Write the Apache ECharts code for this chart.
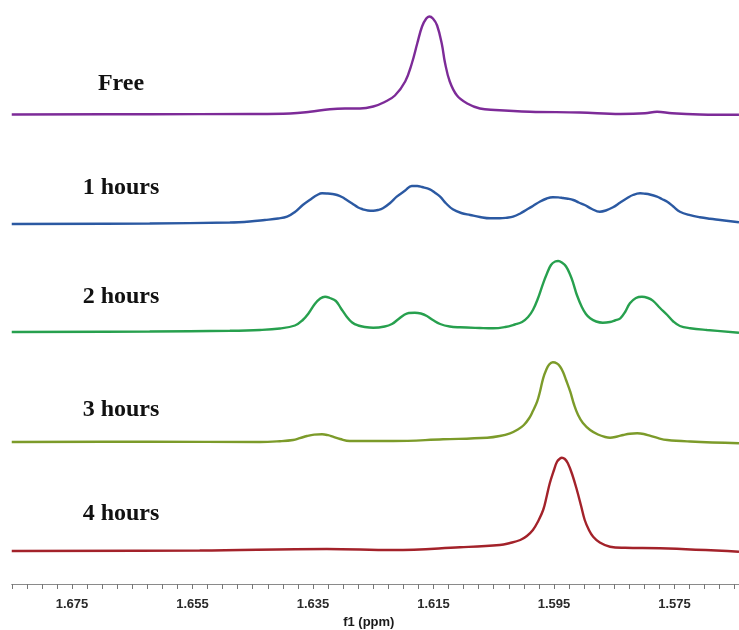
<!DOCTYPE html>
<html>
<head>
<meta charset="utf-8">
<script src="https://cdn.jsdelivr.net/npm/echarts@6/dist/echarts.min.js"></script>
<style>
  html, body { margin: 0; padding: 0; background: #fff; }
  #chart { width: 739px; height: 630px; }
</style>
</head>
<body>
<div id="chart"></div>
<script>
// Stacked 1H NMR traces over time (chemical shift in ppm, intensity in arbitrary units)
const spectrumNames = ['Free', '1 hours', '2 hours', '3 hours', '4 hours'];
const tickLabels = ['1.675', '1.655', '1.635', '1.615', '1.595', '1.575'];

const freePpm = [1.685, 1.6621, 1.6455, 1.6388, 1.6355, 1.6322, 1.6297, 1.6272, 1.6250, 1.6231,
  1.6214, 1.6197, 1.6186, 1.6177, 1.6169, 1.6162, 1.6157, 1.6151, 1.6144, 1.6136,
  1.6131, 1.6123, 1.6111, 1.6094, 1.6073, 1.6048, 1.5990, 1.5907, 1.5840, 1.5799,
  1.5779, 1.5754, 1.5708, 1.5643];
const freeInt = [0, 0.3, 0.5, 1, 2.7, 5.3, 6, 6, 8, 12.5,
  19, 33, 51, 71, 88, 96, 98, 96, 89, 70,
  52, 33, 19, 11, 6, 4.5, 2.8, 2, 0.5, 1.2,
  2.8, 1.2, 0, -0.3];

const h1Ppm = [1.685, 1.6621, 1.6488, 1.6455, 1.6430, 1.6408, 1.6393, 1.6380, 1.6367, 1.6352,
  1.6343, 1.6335, 1.6327, 1.6318, 1.6310, 1.6302, 1.6294, 1.6285, 1.6275, 1.6267,
  1.6259, 1.6250, 1.6242, 1.6234, 1.6222, 1.6211, 1.6197, 1.6186, 1.6177, 1.6169,
  1.6156, 1.6148, 1.6139, 1.6129, 1.6118, 1.6104, 1.6089, 1.6073, 1.6056, 1.6040,
  1.6028, 1.6018, 1.6006, 1.5995, 1.5985, 1.5973, 1.5962, 1.5952, 1.5943, 1.5935,
  1.5927, 1.5918, 1.5909, 1.5899, 1.5887, 1.5874, 1.5864, 1.5852, 1.5840, 1.5829,
  1.5819, 1.5807, 1.5799, 1.5791, 1.5779, 1.5771, 1.5762, 1.5752, 1.5741, 1.5724,
  1.5708, 1.5691, 1.5674, 1.5643];
const h1Int = [0, 0.5, 1.5, 2.5, 4, 5.5, 7.3, 12, 19, 25.5,
  29, 30.7, 30.5, 30, 29, 27, 24, 20.5, 16.5, 14.7,
  13.5, 13.3, 14, 15.7, 21, 27.3, 33.5, 38, 38, 37,
  34.7, 31.5, 27.3, 20.5, 14.7, 11, 9, 7, 5.7, 5.7,
  6.3, 7.3, 10.5, 14.5, 18, 22.5, 25.5, 26.7, 26.6, 26,
  25.3, 24, 21.5, 19, 15, 12.3, 13.5, 16.7, 21.5, 25.7,
  29, 30.7, 30.3, 29.5, 27.3, 25, 22.3, 17.5, 12.3, 8.8,
  6.7, 5.2, 4, 1.7];

const h2Ppm = [1.685, 1.6621, 1.6488, 1.6438, 1.6405, 1.6380, 1.6367, 1.6357, 1.6347, 1.6338,
  1.6330, 1.6322, 1.6312, 1.6304, 1.6294, 1.6285, 1.6275, 1.6264, 1.6250, 1.6231,
  1.6219, 1.6209, 1.6199, 1.6191, 1.6181, 1.6171, 1.6161, 1.6151, 1.6139, 1.6123,
  1.6106, 1.6073, 1.6051, 1.6031, 1.6015, 1.6003, 1.5993, 1.5985, 1.5977, 1.5968,
  1.5962, 1.5955, 1.5948, 1.5943, 1.5937, 1.5930, 1.5923, 1.5918, 1.5912, 1.5904,
  1.5897, 1.5890, 1.5880, 1.5869, 1.5857, 1.5849, 1.5840, 1.5832, 1.5824, 1.5814,
  1.5804, 1.5794, 1.5786, 1.5774, 1.5762, 1.5752, 1.5741, 1.5724, 1.5696, 1.5643];
const h2Int = [0, 0.5, 1.2, 2, 3.5, 6.5, 12, 19, 28, 33.5,
  35.3, 34, 31, 24, 15.3, 9.5, 6.5, 5, 4.3, 5.5,
  8, 12.5, 17, 19, 19.3, 18.5, 16, 12, 8, 5.5,
  4.7, 4, 3.7, 5, 7.5, 10, 15, 22, 33, 48.7,
  58, 67, 70.5, 71, 69.5, 65.5, 57, 48.7, 37, 25.3,
  18, 13.7, 10.5, 9.3, 10, 11.5, 13.7, 20, 28.7, 34,
  35.3, 34, 31.3, 24, 17, 10.5, 6, 3.8, 2, -0.7];

const h3Ppm = [1.685, 1.6621, 1.6438, 1.6405, 1.6383, 1.6372, 1.6360, 1.6348, 1.6335, 1.6325,
  1.6317, 1.6305, 1.6289, 1.6217, 1.6134, 1.6061, 1.6040, 1.6023, 1.6010, 1.6000,
  1.5991, 1.5985, 1.5978, 1.5973, 1.5968, 1.5963, 1.5958, 1.5952, 1.5945, 1.5940,
  1.5935, 1.5930, 1.5923, 1.5917, 1.5910, 1.5902, 1.5890, 1.5877, 1.5865, 1.5857,
  1.5845, 1.5835, 1.5824, 1.5812, 1.5801, 1.5791, 1.5777, 1.5762, 1.5724, 1.5643];
const h3Int = [0, 0.3, 0, 0.8, 2, 3.8, 6, 7.4, 7.7, 6.8,
  5.3, 3, 1, 1, 2.7, 4.3, 6, 8.7, 12.5, 17,
  24, 31, 40.3, 51, 63.7, 72, 77.5, 79.7, 78.5, 75.5,
  70, 62, 50.3, 38, 27, 19, 12, 7.5, 5, 4.3,
  5.5, 7, 8.3, 8.7, 8, 6.3, 3.8, 2, 0.5, -1.3];

const h4Ppm = [1.685, 1.6538, 1.6327, 1.6217, 1.6106, 1.6040, 1.6023, 1.6006, 1.5995, 1.5985,
  1.5977, 1.5968, 1.5962, 1.5957, 1.5950, 1.5945, 1.5940, 1.5937, 1.5932, 1.5927,
  1.5920, 1.5912, 1.5905, 1.5899, 1.5892, 1.5885, 1.5874, 1.5857, 1.5832, 1.5774,
  1.5643];
const h4Int = [0, 0.5, 2, 1, 3.7, 6, 8, 11, 15, 21,
  29, 41, 55, 67.7, 81, 89.3, 92.5, 93.3, 92, 87.7,
  77, 61, 45, 31, 21, 14.3, 8.5, 4.3, 3.2, 2.7,
  -0.7];

const traces = [
  { ppm: freePpm, val: freeInt, color: '#7d2b98', base: 114.5, labelY: 84 },
  { ppm: h1Ppm, val: h1Int, color: '#2b59a2', base: 224, labelY: 188 },
  { ppm: h2Ppm, val: h2Int, color: '#27a04e', base: 332, labelY: 297 },
  { ppm: h3Ppm, val: h3Int, color: '#7c9b2a', base: 442, labelY: 410 },
  { ppm: h4Ppm, val: h4Int, color: '#a3222a', base: 551, labelY: 514 }
];

const PPM_MAX = 1.685;
const PPM_MIN = 1.5625;
const STEP = 0.0025;

const grids = [], xAxes = [], yAxes = [], series = [], graphics = [];
traces.forEach((t, i) => {
  const last = i === traces.length - 1;
  grids.push({ left: 11.75, width: 738.06, top: t.base - 100, height: 110, outerBoundsMode: 'none', containLabel: false });
  xAxes.push({
    type: 'value', gridIndex: i, inverse: true,
    min: PPM_MIN, max: PPM_MAX, interval: STEP,
    show: last,
    offset: last ? 23 : 0,
    splitLine: { show: false },
    axisLine: { show: true, onZero: false, lineStyle: { color: '#8a8a8a', width: 1.2 } },
    axisTick: { show: true, length: 5, lineStyle: { color: '#777', width: 1 } },
    axisLabel: {
      margin: 14, color: '#2a2a2a', fontFamily: 'Arial, "Liberation Sans", sans-serif',
      fontWeight: 'bold', fontSize: 13,
      formatter: v => { const s = v.toFixed(3); return tickLabels.includes(s) ? s : ''; }
    },
    name: last ? 'f1 (ppm)' : '',
    nameLocation: 'middle', nameGap: 31.5,
    nameTextStyle: { color: '#1a1a1a', fontFamily: 'Arial, "Liberation Sans", sans-serif',
      fontWeight: 'bold', fontSize: 13, padding: [0, 24, 0, 0] }
  });
  yAxes.push({ type: 'value', gridIndex: i, min: -10, max: 100, show: false, splitLine: { show: false } });
  series.push({
    type: 'line', name: spectrumNames[i], xAxisIndex: i, yAxisIndex: i,
    data: t.ppm.map((p, k) => [p, t.val[k]]),
    smooth: 0.4, showSymbol: false, silent: true, clip: false,
    lineStyle: { color: t.color, width: 2.4 }
  });
  graphics.push({
    type: 'text', x: 121, y: t.labelY,
    style: { text: spectrumNames[i], fill: '#111', font: 'bold 24px "Liberation Serif", "Times New Roman", serif',
      textAlign: 'center', textVerticalAlign: 'middle' }
  });
});

const chart = echarts.init(document.getElementById('chart'), null, { renderer: 'canvas' });
chart.setOption({
  animation: false,
  backgroundColor: '#fff',
  grid: grids, xAxis: xAxes, yAxis: yAxes, series: series,
  graphic: graphics
});
</script>
</body>
</html>
